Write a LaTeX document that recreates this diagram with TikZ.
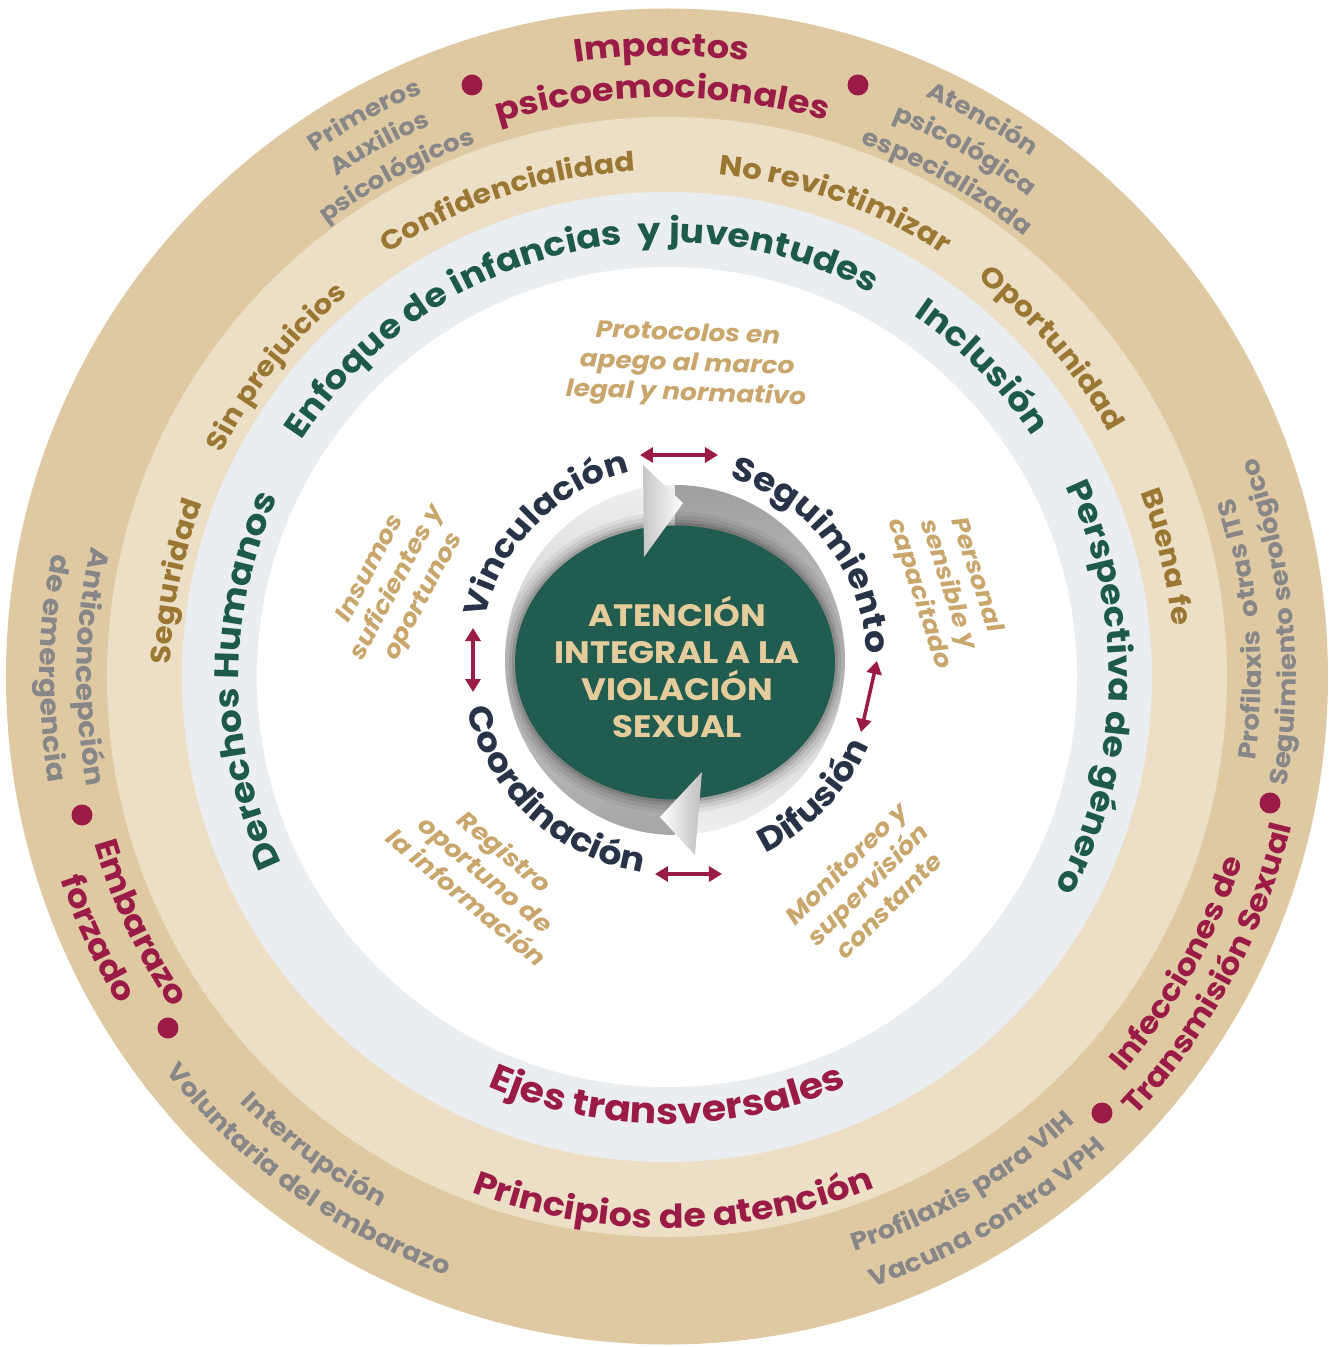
\documentclass[tikz,border=0pt]{standalone}
\usepackage{fontspec}
\setmainfont{Poppins}[FakeStretch=1.1]
\usetikzlibrary{decorations.text,arrows.meta,calc}

\definecolor{ringA}{HTML}{DFC9A3}
\definecolor{ringB}{HTML}{ECDFC6}
\definecolor{ringC}{HTML}{EBEEF0}
\definecolor{mar}{HTML}{9B1B47}
\definecolor{gld}{HTML}{9B7734}
\definecolor{grn}{HTML}{1D5A4A}
\definecolor{gry}{HTML}{878787}
\definecolor{nvy}{HTML}{283348}
\definecolor{lgd}{HTML}{C9A66B}
\definecolor{disc}{HTML}{205C4F}
\definecolor{beige}{HTML}{E5CC9C}

% text on a circular arc, letters facing outwards (clockwise path)
\newcommand\outarc[4]{\path[decorate,decoration={text along path,text align=center,text={#3#4}}]
  ({#2+80}:#1) arc[start angle={#2+80},end angle={#2-80},radius=#1];}
% text on a circular arc, letters facing the centre (counter-clockwise path)
\newcommand\inarc[4]{\path[decorate,decoration={text along path,text align=center,text={#3#4}}]
  ({#2-80}:#1) arc[start angle={#2-80},end angle={#2+80},radius=#1];}

\tikzset{
  dbl/.style={draw=mar,line width=3.5pt,{Triangle[length=13pt,width=15pt]}-{Triangle[length=13pt,width=15pt]}},
  note/.style={text=lgd,align=center,font=\bfseries\itshape\fontsize{24}{30}\selectfont,inner sep=0pt},
  dot/.style={fill=mar,circle,minimum size=21pt,inner sep=0pt}
}

\begin{document}
\begin{tikzpicture}[x=1pt,y=1pt]
\useasboundingbox (-667,-670) rectangle (666,677);

% rings
\fill[ringA] (0,0.5) ellipse[x radius=661,y radius=668];
\fill[ringB] (0,0) circle[radius=560];
\fill[ringC] (0,0) circle[radius=485];
\fill[white] (0,0) circle[radius=410];

% outer ring: impacts
\outarc{621}{90.5}{|\bfseries\fontsize{32}{32}\selectfont\color{mar}|}{Impactos}
\outarc{579}{90.5}{|\bfseries\fontsize{32}{32}\selectfont\color{mar}|}{psicoemocionales}
\outarc{632}{118.3}{|\bfseries\fontsize{24}{24}\selectfont\color{gry}|}{Primeros}
\outarc{600}{118.3}{|\bfseries\fontsize{24}{24}\selectfont\color{gry}|}{Auxilios}
\outarc{567}{118.3}{|\bfseries\fontsize{24}{24}\selectfont\color{gry}|}{psicológicos}
\outarc{635}{60.5}{|\bfseries\fontsize{24}{24}\selectfont\color{gry}|}{Atención}
\outarc{601}{60.5}{|\bfseries\fontsize{24}{24}\selectfont\color{gry}|}{psicológica}
\outarc{567}{60.5}{|\bfseries\fontsize{24}{24}\selectfont\color{gry}|}{especializada}
\inarc{594}{4.75}{|\bfseries\fontsize{25}{25}\selectfont\color{gry}|}{Profilaxis{\hspace*{8pt}} otras ITS}
\inarc{629}{5.2}{|\bfseries\fontsize{25}{25}\selectfont\color{gry}|}{Seguimiento serológico}
\inarc{604}{-29.3}{|\bfseries\fontsize{30}{30}\selectfont\color{mar}|}{Infecciones de}
\inarc{642}{-28.3}{|\bfseries\fontsize{30}{30}\selectfont\color{mar}|}{Transmisión Sexual}
\inarc{604}{300.3}{|\bfseries\fontsize{25}{25}\selectfont\color{gry}|}{Profilaxis para VIH}
\inarc{644}{300.8}{|\bfseries\fontsize{25}{25}\selectfont\color{gry}|}{Vacuna contra VPH}
\inarc{603}{233.3}{|\bfseries\fontsize{25}{25}\selectfont\color{gry}|}{Interrupción}
\inarc{638}{234}{|\bfseries\fontsize{25}{25}\selectfont\color{gry}|}{Voluntaria del embarazo}
\inarc{596}{205}{|\bfseries\fontsize{32}{32}\selectfont\color{mar}|}{Embarazo}
\inarc{639}{204.7}{|\bfseries\fontsize{32}{32}\selectfont\color{mar}|}{forzado}
\inarc{590}{179}{|\bfseries\fontsize{27}{27}\selectfont\color{gry}|}{Anticoncepción}
\inarc{627}{179.2}{|\bfseries\fontsize{27}{27}\selectfont\color{gry}|}{de emergencia}

\node[dot] (d1) at (-195,592) {};
\node[dot] (d2) at (191,592) {};
\node[dot] (d3) at (-585,-138) {};
\node[dot] (d4) at (-499,-351) {};
\node[dot] (d5) at (603,-126) {};
\node[dot] (d6) at (435,-436) {};

% middle ring: principles of care
\outarc{507}{108.5}{|\bfseries\fontsize{27}{27}\selectfont\color{gld}|}{Confidencialidad}
\outarc{505}{70.5}{|\bfseries\fontsize{28}{28}\selectfont\color{gld}|}{No revictimizar}
\outarc{505}{40.5}{|\bfseries\fontsize{28}{28}\selectfont\color{gld}|}{Oportunidad}
\outarc{508}{13.5}{|\bfseries\fontsize{28}{28}\selectfont\color{gld}|}{Buena fe}
\outarc{496}{169}{|\bfseries\fontsize{28}{28}\selectfont\color{gld}|}{Seguridad}
\outarc{498}{141.6}{|\bfseries\fontsize{27}{27}\selectfont\color{gld}|}{Sin prejuicios}
\inarc{551}{270.7}{|\bfseries\fontsize{33}{33}\selectfont\color{mar}|}{Principios de atención}

% inner ring: cross-cutting axes
\outarc{435}{104.5}{|\bfseries\fontsize{33}{33}\selectfont\color{grn}|}{Enfoque de infancias{\hspace*{8pt}} y juventudes}
\outarc{437}{44.5}{|\bfseries\fontsize{33}{33}\selectfont\color{grn}|}{Inclusión}
\outarc{442}{-1.5}{|\bfseries\fontsize{33}{33}\selectfont\color{grn}|}{Perspectiva de género}
\outarc{428}{180.5}{|\bfseries\fontsize{34}{34}\selectfont\color{grn}|}{Derechos Humanos}
\inarc{447}{270}{|\bfseries\fontsize{36}{36}\selectfont\color{mar}|}{Ejes transversales}

% notes in the white disc
\node[note,rotate=-2] (prot) at (20,312) {Protocolos en\\apego al marco\\legal y normativo};
\node[note,rotate=-72] (pers) at (280,92) {Personal\\sensible y\\capacitado};
\node[note,rotate=45] (moni) at (200,-207) {Monitoreo y\\supervisión\\constante};
\node[note,rotate=-40] (regi) at (-181,-197) {Registro\\oportuno de\\la información};
\node[note,rotate=62] (insu) at (-269,94) {Insumos\\suficientes y\\oportunos};

% central cycle
\begin{scope}[shift={(8,15)}]
  \begin{scope}
    \clip (-200,-200) rectangle (0,220);
    \shade[top color=gray!12,bottom color=gray!70] (0,2) ellipse[x radius=170,y radius=175];
  \end{scope}
  \begin{scope}
    \clip (0,-200) rectangle (200,220);
    \shade[top color=gray!75,bottom color=gray!12] (0,2) ellipse[x radius=170,y radius=175];
  \end{scope}
  \begin{scope}
    \clip (0,2) ellipse[x radius=170,y radius=175];
    \foreach \d/\o in {14/0.05,10/0.07,6/0.09,3/0.12}
      \fill[black,opacity=\o] (0,-0.5) ellipse[x radius=160+\d,y radius=137+\d];
  \end{scope}
  \fill[disc] (0,-0.5) ellipse[x radius=160,y radius=137];
  \shade[left color=gray!45,right color=white] (-32,197) -- (8,159) -- (-31,105) -- cycle;
  \shade[left color=white,right color=gray!50] (27,-110) -- (-15,-155) -- (20,-193) -- cycle;
  \node[text=beige,align=center,font=\bfseries\fontsize{31}{37}\selectfont] (title) at (2,-5)
    {ATENCIÓN\\INTEGRAL A LA\\VIOLACIÓN\\SEXUAL};
  \outarc{195}{135.2}{|\bfseries\fontsize{32}{32}\selectfont\color{nvy}|}{Vinculación}
  \outarc{192}{37.9}{|\bfseries\fontsize{33}{33}\selectfont\color{nvy}|}{Seguimiento}
  \inarc{211}{-44}{|\bfseries\fontsize{33}{33}\selectfont\color{nvy}|}{Difusión}
  \inarc{213}{227}{|\bfseries\fontsize{33}{33}\selectfont\color{nvy}|}{Coordinación}
\end{scope}

% links between the four actions
\coordinate (t1) at (-27,222); \coordinate (t2) at (51,222);
\coordinate (l1) at (-194,49); \coordinate (l2) at (-194,-15);
\coordinate (r1) at (210,16);  \coordinate (r2) at (194,-55);
\coordinate (b1) at (-12,-197); \coordinate (b2) at (55,-197);
\draw[dbl] (t1) -- (t2);
\draw[dbl] (l1) -- (l2);
\draw[dbl] (r1) -- (r2);
\draw[dbl] (b1) -- (b2);
\end{tikzpicture}
\end{document}
